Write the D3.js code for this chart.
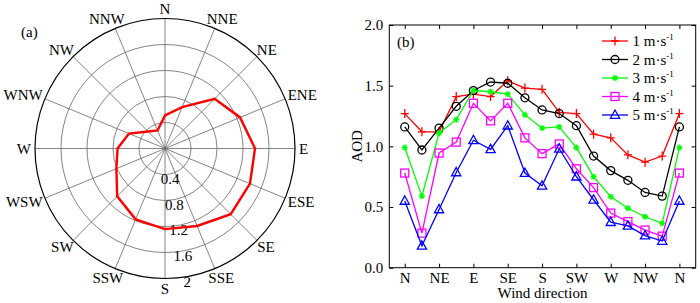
<!DOCTYPE html>
<html>
<head>
<meta charset="utf-8">
<script src="https://cdn.jsdelivr.net/npm/d3@7"></script>
<style>
  body { margin: 0; background: #fff; }
  svg { display: block; font-family: "Liberation Serif", "Times New Roman", serif; }
</style>
</head>
<body>
<svg id="chart" width="700" height="303"></svg>
<script>

// 16 compass directions (panel a)
const dirs16 = ["N","NNE","NE","ENE","E","ESE","SE","SSE","S","SSW","SW","WSW","W","WNW","NW","NNW"];
const polarAod = [0.51,0.69,1.08,1.25,1.385,1.415,1.43,1.29,1.24,1.18,1.04,0.81,0.73,0.60,0.37,0.30];
const ringValues = [0.4, 0.8, 1.2, 1.6, 2];
const ringLabels = ["0.4", "0.8", "1.2", "1.6", "2"];

// panel b: AOD by wind direction, one series per wind speed (N repeated at end)
const xTickLabels = ["N","NE","E","SE","S","SW","W","NW","N"];
const speedNames = ["1 m·s", "2 m·s", "3 m·s", "4 m·s", "5 m·s"];
const speed1 = [1.27,1.12,1.12,1.41,1.43,1.41,1.54,1.48,1.47,1.28,1.27,1.10,1.07,0.93,0.87,0.92,1.27];
const speed2 = [1.16,0.97,1.15,1.33,1.46,1.53,1.52,1.40,1.30,1.27,1.17,0.92,0.80,0.72,0.62,0.59,1.16];
const speed3 = [0.99,0.59,1.11,1.22,1.46,1.45,1.43,1.26,1.15,1.16,0.99,0.75,0.585,0.49,0.42,0.365,0.99];
const speed4 = [0.78,0.285,0.945,1.035,1.355,1.21,1.355,1.07,0.94,1.02,0.815,0.66,0.45,0.38,0.31,0.26,0.78];
const speed5 = [0.55,0.18,0.48,0.785,1.05,0.975,1.17,0.78,0.675,0.98,0.75,0.56,0.375,0.345,0.265,0.22,0.55];

const FS = 15;
const svg = d3.select("#chart");

// ---------------- panel (a) polar ----------------
const cx = 165, cy = 148.5;
const r = d3.scaleLinear().domain([0, 2]).range([0, 130]);
const ang = i => i * 2 * Math.PI / 16;

const polar = svg.append("g").attr("transform", `translate(${cx},${cy})`);

polar.selectAll(".ring")
  .data(ringValues.slice(0, -1))
  .enter().append("circle")
  .attr("r", d => r(d))
  .attr("fill", "none")
  .attr("stroke", "#666")
  .attr("stroke-width", 0.8);

polar.selectAll(".spoke")
  .data(dirs16)
  .enter().append("line")
  .attr("x1", 0).attr("y1", 0)
  .attr("x2", (d, i) => r(2) * Math.sin(ang(i)))
  .attr("y2", (d, i) => -r(2) * Math.cos(ang(i)))
  .attr("stroke", "#666")
  .attr("stroke-width", 0.8);

polar.append("circle")
  .attr("r", r(2))
  .attr("fill", "none")
  .attr("stroke", "#000")
  .attr("stroke-width", 1.2);

// ring value labels, slightly east of south
const labAng = 170.5 * Math.PI / 180;
polar.selectAll(".rlab")
  .data(ringValues)
  .enter().append("text")
  .attr("x", d => (r(d) + 5) * Math.sin(labAng))
  .attr("y", d => -(r(d) + 5) * Math.cos(labAng))
  .attr("text-anchor", "middle")
  .attr("dominant-baseline", "central")
  .attr("font-size", FS)
  .text((d, i) => ringLabels[i]);

// direction labels
const dirLab = polar.selectAll(".dlab")
  .data(dirs16)
  .enter().append("text")
  .attr("text-anchor", "middle")
  .attr("dominant-baseline", "central")
  .attr("font-size", FS)
  .text(d => d);

dirLab.each(function (d, i) {
  const w = this.getComputedTextLength();
  const s = Math.sin(ang(i)), c = Math.cos(ang(i));
  const R = 134;
  d3.select(this)
    .attr("x", R * s + s * w / 2)
    .attr("y", -R * c - c * 6);
});

const radial = d3.lineRadial()
  .angle((d, i) => ang(i))
  .radius(d => r(d))
  .curve(d3.curveLinearClosed);

polar.append("path")
  .attr("d", radial(polarAod))
  .attr("fill", "none")
  .attr("stroke", "#ff0000")
  .attr("stroke-width", 2.4);

svg.append("text")
  .attr("x", 21).attr("y", 37)
  .attr("font-size", FS)
  .text("(a)");

// ---------------- panel (b) lines ----------------
const plotL = 389.3, plotR = 695.7, plotT = 25, plotB = 267.7;
const x = d3.scaleLinear().domain([-0.9, 16.95]).range([plotL, plotR]);
const y = d3.scaleLinear().domain([0, 2]).range([plotB, plotT]);
const tickIdx = d3.range(0, 17, 2);

svg.append("g")
  .attr("transform", `translate(0,${plotB})`)
  .call(d3.axisBottom(x).tickValues(tickIdx).tickSize(-4).tickPadding(5)
    .tickFormat((d, i) => xTickLabels[i]))
  .call(g => g.select(".domain").remove());

svg.append("g")
  .attr("transform", `translate(0,${plotT})`)
  .call(d3.axisTop(x).tickValues(tickIdx).tickSize(-4).tickFormat(""))
  .call(g => g.select(".domain").remove());

svg.append("g")
  .attr("transform", `translate(${plotL},0)`)
  .call(d3.axisLeft(y).tickValues([0, 0.5, 1, 1.5, 2]).tickSize(-4).tickPadding(6)
    .tickFormat(d3.format(".1f")))
  .call(g => g.select(".domain").remove());

svg.append("g")
  .attr("transform", `translate(${plotR},0)`)
  .call(d3.axisRight(y).tickValues([0, 0.5, 1, 1.5, 2]).tickSize(-4).tickFormat(""))
  .call(g => g.select(".domain").remove());

svg.selectAll(".tick text")
  .attr("font-size", FS)
  .attr("font-family", "Liberation Serif, Times New Roman, serif")
  .attr("fill", "#000");
svg.selectAll(".tick line").attr("stroke", "#000");

svg.append("rect")
  .attr("x", plotL).attr("y", plotT)
  .attr("width", plotR - plotL).attr("height", plotB - plotT)
  .attr("fill", "none").attr("stroke", "#000").attr("stroke-width", 1);

svg.append("text")
  .attr("transform", `translate(362,${(plotT + plotB) / 2}) rotate(-90)`)
  .attr("text-anchor", "middle")
  .attr("font-size", FS)
  .text("AOD");

svg.append("text")
  .attr("x", (plotL + plotR) / 2).attr("y", 298)
  .attr("text-anchor", "middle")
  .attr("font-size", FS)
  .text("Wind direction");

svg.append("text")
  .attr("x", 397).attr("y", 47)
  .attr("font-size", FS)
  .text("(b)");

// marker drawers
const markers = {
  plus: g => g.append("path").attr("d", "M-4,0H4M0,-4.5V4.5"),
  circle: g => g.append("circle").attr("r", 4).attr("fill", "none"),
  star: g => g.append("path").attr("d", "M-3,0H3M0,-3V3M-2.2,-2.2L2.2,2.2M-2.2,2.2L2.2,-2.2"),
  square: g => g.append("rect").attr("x", -4).attr("y", -4).attr("width", 8).attr("height", 8).attr("fill", "none"),
  triangle: g => g.append("path").attr("d", "M0,-5L4.6,3.3H-4.6Z").attr("fill", "none")
};

const series = [
  { values: speed1, color: "#ff0000", marker: "plus" },
  { values: speed2, color: "#000000", marker: "circle" },
  { values: speed3, color: "#00ff00", marker: "star" },
  { values: speed4, color: "#ff00ff", marker: "square" },
  { values: speed5, color: "#0000ff", marker: "triangle" }
];

const line = d3.line().x((d, i) => x(i)).y(d => y(d));

series.forEach(s => {
  const g = svg.append("g")
    .attr("stroke", s.color)
    .attr("stroke-width", 1.3)
    .attr("fill", "none");
  g.append("path").attr("d", line(s.values));
  s.values.forEach((v, i) => {
    const m = g.append("g").attr("transform", `translate(${x(i)},${y(v)})`);
    markers[s.marker](m);
  });
});

// legend
const legRows = [41, 59.5, 78, 96.5, 115];
series.forEach((s, k) => {
  const g = svg.append("g")
    .attr("transform", `translate(0,${legRows[k]})`);
  const lg = g.append("g").attr("stroke", s.color).attr("stroke-width", 1.3).attr("fill", "none");
  lg.append("line").attr("x1", 602).attr("x2", 628).attr("y1", 0).attr("y2", 0);
  markers[s.marker](lg.append("g").attr("transform", "translate(615,0)"));
  const t = g.append("text")
    .attr("x", 632.5).attr("y", 5)
    .attr("font-size", FS)
    .text(speedNames[k]);
  t.append("tspan")
    .attr("font-size", 9)
    .attr("dy", -6)
    .text("-1");
});
</script>
</body>
</html>
